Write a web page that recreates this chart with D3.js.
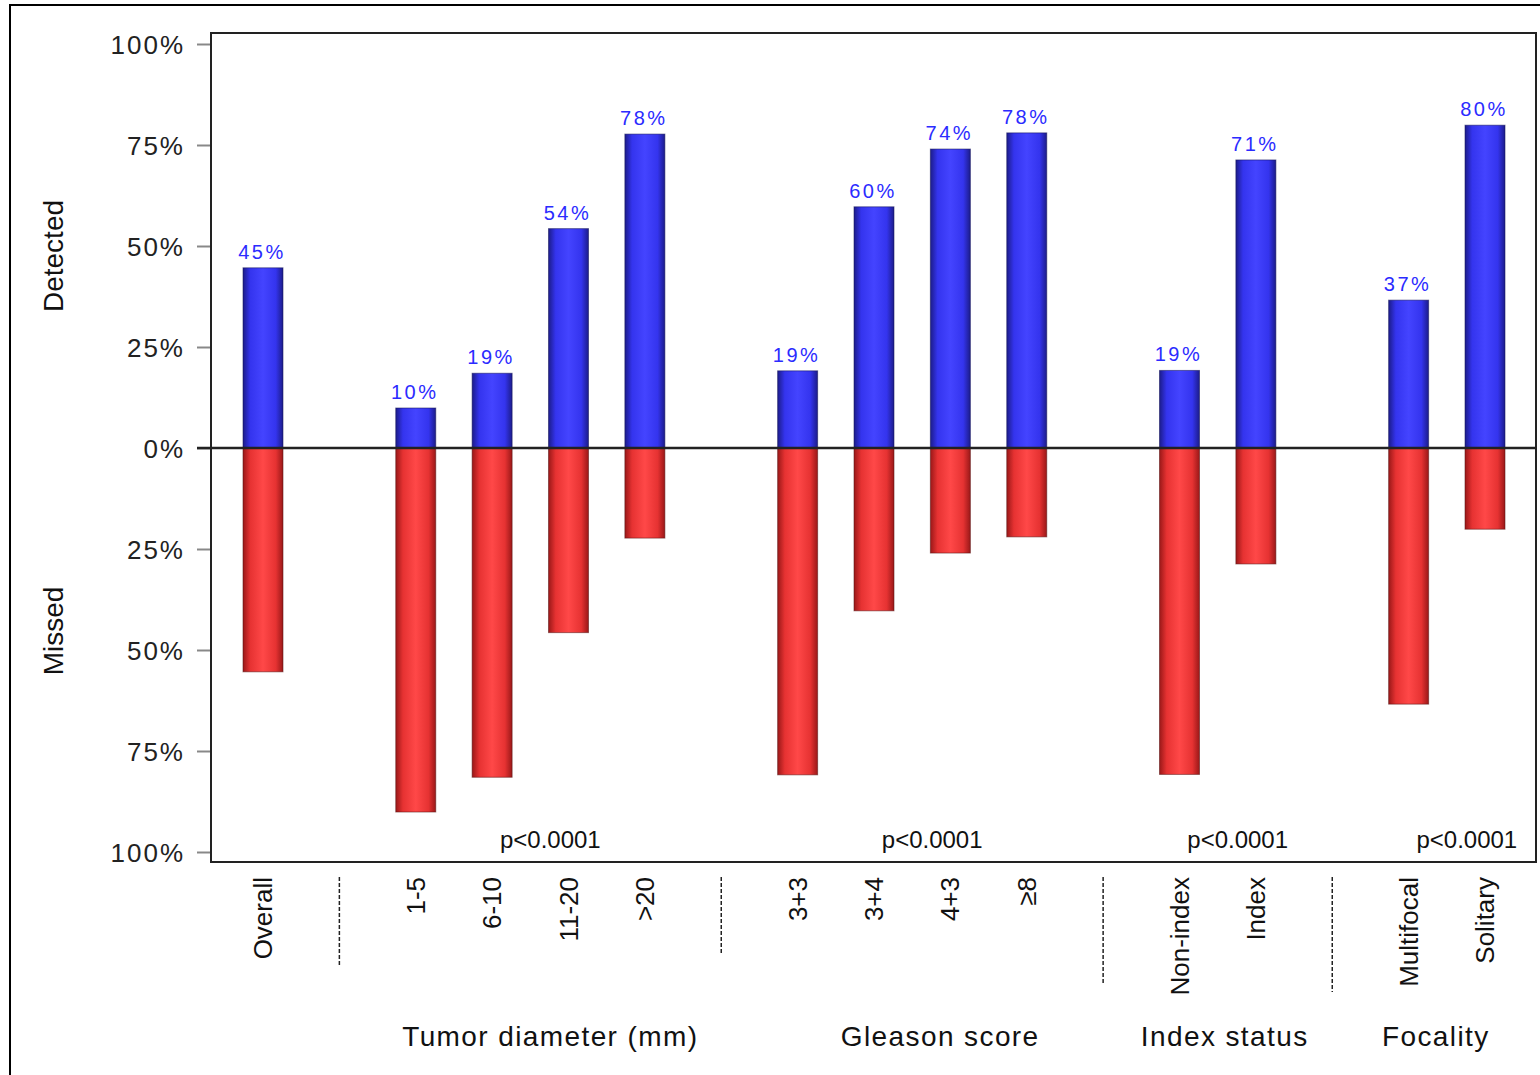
<!DOCTYPE html>
<html>
<head>
<meta charset="utf-8">
<script src="https://cdn.jsdelivr.net/npm/d3@7"></script>
<style>
  body { margin: 0; background: #fff; }
  text { font-family: "Liberation Sans", Arial, sans-serif; }
</style>
</head>
<body>
<div id="chart"></div>
<script>
// categories, in display order ("|" marks a group divider slot)
var slots = ["Overall", "|1", "1-5", "6-10", "11-20", ">20", "|2",
    "3+3", "3+4", "4+3", "\u22658", "|3", "Non-index", "Index", "|4",
    "Multifocal", "Solitary"];
var categories = ["Overall", "1-5", "6-10", "11-20", ">20", "3+3", "3+4",
    "4+3", "\u22658", "Non-index", "Index", "Multifocal", "Solitary"];
var detected = [44.6, 9.9, 18.5, 54.3, 77.7, 19.1, 59.7, 74.0, 78.0, 19.2, 71.3, 36.6, 79.9];
var missed = [55.4, 90.1, 81.5, 45.7, 22.3, 80.9, 40.3, 26.0, 22.0, 80.8, 28.7, 63.4, 20.1];
var yTicks = [-100, -75, -50, -25, 0, 25, 50, 75, 100];
var groupNames = ["Tumor diameter (mm)", "Gleason score", "Index status", "Focality"];
var groupMembers = [["1-5", ">20"], ["3+3", "\u22658"], ["Non-index", "Index"], ["Multifocal", "Solitary"]];
var pValues = ["p<0.0001", "p<0.0001", "p<0.0001", "p<0.0001"];

var vWidth = 1540, vHeight = 1075;
var frame = { left: 211, top: 33, right: 1536, bottom: 862 };

var svg = d3.select("#chart").append("svg")
    .attr("width", vWidth)
    .attr("height", vHeight);

var defs = svg.append("defs");
function addGradient(id, edge, mid, centre) {
    var g = defs.append("linearGradient").attr("id", id)
        .attr("x1", "0%").attr("x2", "100%").attr("y1", "0%").attr("y2", "0%");
    [[0, edge], [0.18, mid], [0.5, centre], [0.82, mid], [1, edge]].forEach(function (s) {
        g.append("stop").attr("offset", s[0]).attr("stop-color", s[1]);
    });
}
addGradient("gBlue", "#1c1c8a", "#3434ee", "#4444ff");
addGradient("gRed", "#9a1818", "#e63232", "#ff4848");

// outer border
svg.append("rect")
    .attr("x", 10).attr("y", 5)
    .attr("width", vWidth + 20).attr("height", vHeight + 20)
    .attr("fill", "none").attr("stroke", "#000").attr("stroke-width", 2);

var x = d3.scalePoint().domain(slots).range([263, 1485]);
var y = d3.scaleLinear().domain([-100, 100]).range([852, 44]);
var barW = 40;

// y axis
var yAxis = svg.append("g")
    .attr("transform", "translate(" + frame.left + ",0)")
    .call(d3.axisLeft(y).tickValues(yTicks).tickSize(14).tickPadding(12)
        .tickFormat(function (d) { return Math.abs(d) + "%"; }));
yAxis.select(".domain").remove();
yAxis.selectAll(".tick line").attr("stroke", "#888").attr("stroke-width", 2);
yAxis.selectAll(".tick text")
    .style("font-size", "26px").style("letter-spacing", "2px")
    .attr("fill", "#222").attr("dy", "0.36em");

svg.append("text")
    .attr("transform", "translate(63,256) rotate(-90)")
    .attr("text-anchor", "middle")
    .style("font-size", "28px").attr("fill", "#111")
    .text("Detected");
svg.append("text")
    .attr("transform", "translate(63,631) rotate(-90)")
    .attr("text-anchor", "middle")
    .style("font-size", "28px").attr("fill", "#111")
    .text("Missed");

// bars
var bars = svg.append("g");
bars.selectAll("rect.det")
    .data(categories)
    .enter()
    .append("rect")
        .attr("class", "det")
        .attr("x", function (d) { return x(d) - barW / 2; })
        .attr("y", function (d, i) { return y(detected[i]); })
        .attr("width", barW)
        .attr("height", function (d, i) { return y(0) - y(detected[i]); })
        .attr("fill", "url(#gBlue)")
        .attr("stroke", "rgba(20,20,90,0.55)").attr("stroke-width", 1);
bars.selectAll("rect.mis")
    .data(categories)
    .enter()
    .append("rect")
        .attr("class", "mis")
        .attr("x", function (d) { return x(d) - barW / 2; })
        .attr("y", y(0))
        .attr("width", barW)
        .attr("height", function (d, i) { return y(-missed[i]) - y(0); })
        .attr("fill", "url(#gRed)")
        .attr("stroke", "rgba(90,20,20,0.55)").attr("stroke-width", 1);

// value labels
svg.selectAll("text.val")
    .data(categories)
    .enter()
    .append("text")
        .attr("class", "val")
        .attr("x", function (d) { return x(d) - 1; })
        .attr("y", function (d, i) { return y(detected[i]) - 9; })
        .attr("text-anchor", "middle")
        .style("font-size", "20px").style("letter-spacing", "2.5px")
        .attr("fill", "#2b2bff")
        .text(function (d, i) { return Math.round(detected[i]) + "%"; });

// zero line
svg.append("line")
    .attr("x1", 197).attr("x2", frame.right)
    .attr("y1", y(0)).attr("y2", y(0))
    .attr("stroke", "#222").attr("stroke-width", 2.5);

// frame
svg.append("rect")
    .attr("x", frame.left).attr("y", frame.top)
    .attr("width", frame.right - frame.left).attr("height", frame.bottom - frame.top)
    .attr("fill", "none").attr("stroke", "#222").attr("stroke-width", 2);

// p-values
svg.selectAll("text.pv")
    .data(groupMembers)
    .enter()
    .append("text")
        .attr("class", "pv")
        .attr("x", function (d) { return (x(d[0]) + x(d[1])) / 2 + 20; })
        .attr("y", 848)
        .attr("text-anchor", "middle")
        .style("font-size", "24px").attr("fill", "#111")
        .text(function (d, i) { return pValues[i]; });

// category labels
svg.selectAll("text.cat")
    .data(categories)
    .enter()
    .append("text")
        .attr("class", "cat")
        .attr("transform", function (d) {
            return "translate(" + (x(d) + 9) + ",877) rotate(-90)";
        })
        .attr("text-anchor", "end")
        .style("font-size", "26px").attr("fill", "#111")
        .text(function (d) { return d; });

// dashed dividers
var dividerEnd = [965, 955, 983, 992];
svg.selectAll("line.div")
    .data(slots.filter(function (s) { return s[0] === "|"; }))
    .enter()
    .append("line")
        .attr("class", "div")
        .attr("x1", function (d) { return x(d); })
        .attr("x2", function (d) { return x(d); })
        .attr("y1", 877)
        .attr("y2", function (d, i) { return dividerEnd[i]; })
        .attr("stroke", "#222").attr("stroke-width", 1.5)
        .attr("stroke-dasharray", "4,2");

// group titles
var titleShift = [20, 28, 7, -11];
svg.selectAll("text.grp")
    .data(groupMembers)
    .enter()
    .append("text")
        .attr("class", "grp")
        .attr("x", function (d, i) { return (x(d[0]) + x(d[1])) / 2 + titleShift[i]; })
        .attr("y", 1046)
        .attr("text-anchor", "middle")
        .style("font-size", "28px").style("letter-spacing", "1.4px")
        .attr("fill", "#111")
        .text(function (d, i) { return groupNames[i]; });
</script>
</body>
</html>
